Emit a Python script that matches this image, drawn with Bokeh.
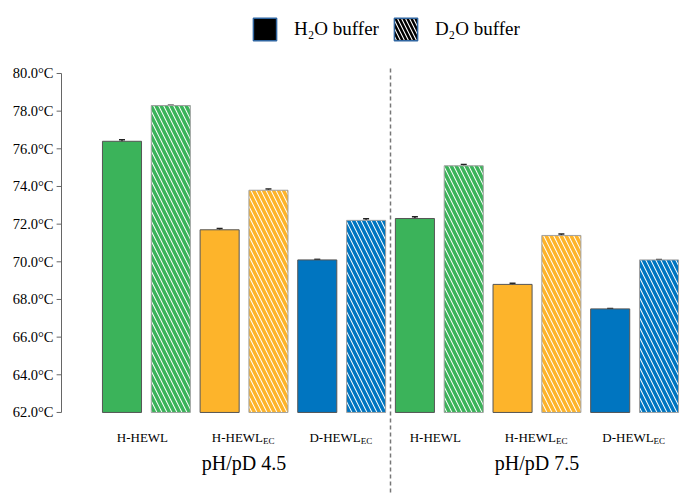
from bokeh.plotting import figure
from bokeh.models import (ColumnDataSource, Whisker, TeeHead, Legend, LegendItem, Range1d)
from bokeh.core.properties import value
from bokeh.embed import file_html
from bokeh.resources import INLINE

# ---- data ----
groups = ["pH/pD 4.5", "pH/pD 7.5"]
proteins = ["H-HEWL", "H-HEWL", "D-HEWL"]
protein_subs = ["", "EC", "EC"]
buffers = ["H\u2082O buffer", "D\u2082O buffer"]
h2o_45 = [76.4, 71.7, 70.1]
d2o_45 = [78.3, 73.8, 72.2]
h2o_75 = [72.3, 68.8, 67.5]
d2o_75 = [75.1, 71.4, 70.1]
err_h2o_45 = [0.08, 0.07, 0.03]
err_d2o_45 = [0.02, 0.07, 0.08]
err_h2o_75 = [0.09, 0.06, 0.02]
err_d2o_75 = [0.07, 0.08, 0.02]
colors = ["#3bb35a", "#fdb42b", "#0075c0"]
y_ticks = [62, 64, 66, 68, 70, 72, 74, 76, 78, 80]
y_tick_labels = ["%.1f°C" % t for t in y_ticks]
base = 62.0

FONT = "Liberation Serif"

xs_h2o, xs_d2o, top_h2o, top_d2o, e_h2o, e_d2o, cols = [], [], [], [], [], [], []
for g, (h, d, eh, ed) in enumerate([(h2o_45, d2o_45, err_h2o_45, err_d2o_45),
                                    (h2o_75, d2o_75, err_h2o_75, err_d2o_75)]):
    for i in range(3):
        k = g * 6 + i * 2
        xs_h2o.append(k)
        xs_d2o.append(k + 1)
        top_h2o.append(h[i])
        top_d2o.append(d[i])
        e_h2o.append(eh[i])
        e_d2o.append(ed[i])
        cols.append(colors[i])

src_h = ColumnDataSource(dict(x=xs_h2o, top=top_h2o, c=cols,
                              lo=[t - e for t, e in zip(top_h2o, e_h2o)],
                              hi=[t + e for t, e in zip(top_h2o, e_h2o)]))
src_d = ColumnDataSource(dict(x=xs_d2o, top=top_d2o, c=cols,
                              lo=[t - e for t, e in zip(top_d2o, e_d2o)],
                              hi=[t + e for t, e in zip(top_d2o, e_d2o)]))

x0, x1 = -2.4885, 11.481
y0, y1 = 57.59, 83.876
axis_x = -1.239          # where the value axis stands
tick_len = 0.1           # tick length in x units (~5 px)

p = figure(width=682, height=495, output_backend="svg", toolbar_location=None,
           x_range=Range1d(x0, x1), y_range=Range1d(y0, y1),
           x_axis_location=None, y_axis_location=None,
           min_border_left=0, min_border_right=0,
           min_border_top=0, min_border_bottom=0)
p.outline_line_color = None
p.grid.visible = False

p.vbar(x="x", top="top", bottom=base, width=0.8, source=src_h,
       fill_color="c", line_color="#555555", line_width=1)
p.vbar(x="x", top="top", bottom=base, width=0.8, source=src_d,
       fill_color="white", hatch_pattern="left_diagonal_line", hatch_color="c",
       hatch_scale=10, hatch_weight=3.5, line_color="#a0a0a0", line_width=1)

for s in (src_h, src_d):
    w = Whisker(source=s, base="x", upper="hi", lower="lo", line_color="#222222",
                line_width=1.5,
                upper_head=TeeHead(size=6, line_color="#222222", line_width=1.5),
                lower_head=TeeHead(size=6, line_color="#222222", line_width=1.5))
    p.add_layout(w)

# value axis (line, ticks, serif labels) built from the tick list
p.segment(x0=[axis_x], y0=[y_ticks[0]], x1=[axis_x], y1=[y_ticks[-1]],
          line_color="#666666", line_width=1)
p.segment(x0=[axis_x - tick_len] * len(y_ticks), y0=y_ticks,
          x1=[axis_x] * len(y_ticks), y1=y_ticks,
          line_color="#666666", line_width=1)
p.text(x=[axis_x] * len(y_ticks), y=y_ticks, text=y_tick_labels, x_offset=-8,
       text_align="right", text_baseline="middle", text_font=value(FONT),
       text_font_size="14.5px", text_color="black")

# divider between the two pH groups
p.segment(x0=[5.5], y0=[y_ticks[-1] + 0.27], x1=[5.5], y1=[y0],
          line_color="#777777", line_dash="4 3", line_width=1.5)

# category labels (with subscripts)
cat_x, cat_main, cat_sub, cat_align, cat_off = [], [], [], [], []
for g in range(2):
    for i in range(3):
        cat_x.append(g * 6 + i * 2 + 0.5)
        cat_main.append(proteins[i])
        cat_sub.append(protein_subs[i])
        cat_align.append("right" if protein_subs[i] else "center")
        cat_off.append(19 if protein_subs[i] else -4)
lab = ColumnDataSource(dict(x=cat_x, t=cat_main, a=cat_align, off=cat_off))
p.text(x="x", y=60.67, text="t", source=lab, x_offset="off", text_align="a",
       text_baseline="middle", text_font=value(FONT), text_font_size="13px",
       text_color="black")
sub_x = [x for x, s in zip(cat_x, cat_sub) if s]
sub_t = [s for s in cat_sub if s]
p.text(x=sub_x, y=60.67, text=sub_t, x_offset=19, y_offset=4,
       text_align="left", text_baseline="middle",
       text_font=value(FONT), text_font_size="9px", text_color="black")

p.text(x=[2.5, 8.5], y=59.29, text=groups, text_align="center",
       text_baseline="middle", text_font=value(FONT), text_font_size="20px",
       text_color="black")

# legend (dummy renderers placed outside the visible range)
r1 = p.rect(x=[-100], y=[0], width=1, height=1, fill_color="black",
            line_color="#2f65a0", line_width=1.5)
r2 = p.rect(x=[-100], y=[0], width=1, height=1, fill_color="white",
            line_color="#2f65a0", line_width=1.5,
            hatch_pattern="left_diagonal_line", hatch_color="black",
            hatch_scale=8, hatch_weight=2.5)
leg = Legend(items=[LegendItem(label=buffers[0], renderers=[r1]),
                    LegendItem(label=buffers[1], renderers=[r2])],
             orientation="horizontal", location=(250, 452),
             glyph_width=29, glyph_height=28, label_standoff=15, spacing=12,
             padding=0, margin=0, border_line_color=None,
             background_fill_alpha=0, label_text_font=FONT,
             label_text_font_size="19px", label_text_color="black",
             label_text_baseline="middle")
p.add_layout(leg, "center")

open("out.html", "w").write(file_html(p, INLINE))
